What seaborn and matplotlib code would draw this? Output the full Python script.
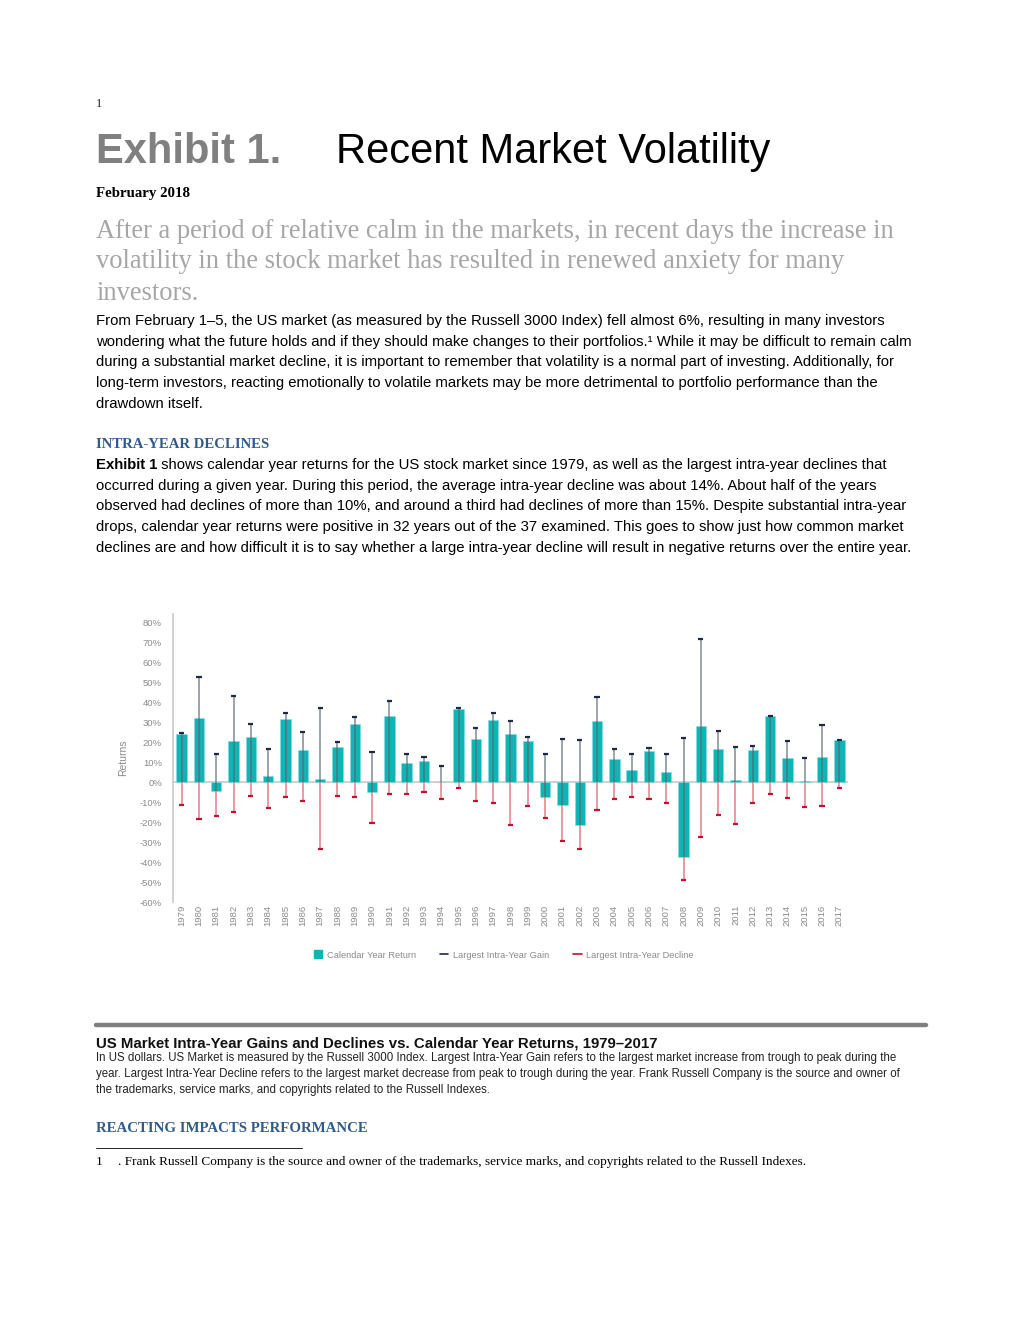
import matplotlib
matplotlib.use("Agg")
import matplotlib.pyplot as plt
from matplotlib.patches import Patch
from matplotlib.lines import Line2D
from matplotlib.text import Annotation
import seaborn as sns
import pandas as pd

# ---------------- data ----------------
years = [str(y) for y in range(1979, 2018)]
calendar_return = [24.0, 32.2, -4.7, 20.3, 22.3, 3.0, 31.7, 16.2, 1.7, 17.5, 28.8,
                   -5.2, 33.2, 9.3, 10.5, 0.2, 36.3, 21.3, 31.2, 23.8, 20.5,
                   -7.7, -11.7, -21.7, 30.7, 11.7, 6.0, 15.5, 4.8, -37.5, 27.8,
                   16.7, 0.8, 16.2, 33.2, 12.2, 0.5, 12.5, 20.8]
intra_year_gain = [24.7, 52.3, 14.0, 42.8, 29.2, 16.3, 34.3, 25.2, 36.8, 19.8, 32.7,
                   14.8, 40.3, 14.2, 12.5, 8.2, 37.0, 27.2, 34.3, 30.3, 22.5,
                   13.8, 21.3, 21.0, 42.7, 16.5, 14.2, 17.2, 14.2, 21.8, 71.7,
                   25.3, 17.7, 17.8, 33.2, 20.5, 11.8, 28.3, 21.2]
intra_year_decline = [-11.3, -18.7, -17.0, -15.2, -7.0, -13.2, -7.7, -9.5, -33.3, -7.0, -7.7,
                      -20.5, -5.8, -6.2, -5.2, -8.7, -3.0, -9.3, -10.3, -21.3, -12.2,
                      -17.8, -29.5, -33.3, -13.8, -8.5, -7.3, -8.7, -10.5, -48.8, -27.7,
                      -16.7, -20.8, -10.3, -6.0, -7.8, -12.3, -11.8, -3.2]
y_ticks = list(range(-60, 81, 10))
y_tick_labels = [f"{v}%" for v in y_ticks]
legend_labels = ["Calendar Year Return", "Largest Intra-Year Gain", "Largest Intra-Year Decline"]

df = pd.DataFrame({"year": years, "ret": calendar_return,
                   "gain": intra_year_gain, "decline": intra_year_decline})

# ---------------- style ----------------
sns.set_theme(style="white")
plt.rcParams["font.family"] = ["Liberation Sans", "DejaVu Sans"]

W, H = 1020, 1320
fig = plt.figure(figsize=(W / 100, H / 100), dpi=100)

TEAL = "#0fb5b5"
GAIN_LINE = "#5b6670"
GAIN_CAP = "#1c2b45"
DEC_LINE = "#e07482"
DEC_CAP = "#c8102e"
TICK_GRAY = "#8a8a8a"
NARROW = ["Liberation Sans", "DejaVu Sans"]
SERIF = ["Liberation Serif", "DejaVu Serif"]
SANS = ["Liberation Sans", "DejaVu Sans"]


def ftext(x, y, s, **kw):
    kw.setdefault("va", "center")
    kw.setdefault("ha", "left")
    return fig.text(x / W, 1 - y / H, s, **kw)


# ---------------- page text ----------------
ftext(96, 104, "1", family=SERIF, fontsize=9, color="#222222")
ftext(96, 152, "Exhibit 1.", family=SANS, fontsize=30, fontweight="bold", color="#808080")
ftext(336, 152, "Recent Market Volatility", family=SANS, fontsize=30, color="#000000")
ftext(96, 194, "February 2018", family=SERIF, fontsize=10.7, fontweight="bold", color="#000000")

sub = ["After a period of relative calm in the markets, in recent days the increase in",
       "volatility in the stock market has resulted in renewed anxiety for many",
       "investors."]
for i, line in enumerate(sub):
    ftext(96, 231 + i * 31, line, family=SERIF, fontsize=19.1, color="#a6a6a6")

BODY = 10.75
body1 = ["From February 1\u20135, the US market (as measured by the Russell 3000 Index) fell almost 6%, resulting in many investors",
         "wondering what the future holds and if they should make changes to their portfolios.\u00b9 While it may be difficult to remain calm",
         "during a substantial market decline, it is important to remember that volatility is a normal part of investing. Additionally, for",
         "long-term investors, reacting emotionally to volatile markets may be more detrimental to portfolio performance than the",
         "drawdown itself."]
for i, line in enumerate(body1):
    ftext(96, 321 + i * 20.7, line, family=SANS, fontsize=BODY, color="#000000")

ftext(96, 444, "INTRA-YEAR DECLINES", family=SERIF, fontsize=10.6, fontweight="bold", color="#2f5a8c")

body2 = ["shows calendar year returns for the US stock market since 1979, as well as the largest intra-year declines that",
         "occurred during a given year. During this period, the average intra-year decline was about 14%. About half of the years",
         "observed had declines of more than 10%, and around a third had declines of more than 15%. Despite substantial intra-year",
         "drops, calendar year returns were positive in 32 years out of the 37 examined. This goes to show just how common market",
         "declines are and how difficult it is to say whether a large intra-year decline will result in negative returns over the entire year."]
t_bold = ftext(96, 465, "Exhibit 1", family=SANS, fontsize=BODY, fontweight="bold", color="#000000")
ann = Annotation(" " + body2[0], xy=(1, 0.5), xycoords=t_bold, va="center", ha="left",
                 family=SANS, fontsize=BODY, color="#000000", annotation_clip=False)
fig.add_artist(ann)
for i, line in enumerate(body2[1:], start=1):
    ftext(96, 465 + i * 20.7, line, family=SANS, fontsize=BODY, color="#000000")

# ---------------- chart ----------------
ax = fig.add_axes([173 / W, 1 - 902 / H, (848 - 173) / W, (902 - 614) / H])
sns.barplot(data=df, x="year", y="ret", color=TEAL, saturation=1, width=0.6,
            ax=ax, edgecolor="#7fe0e0", linewidth=0.5, zorder=2)

xpos = range(len(df))
base = df["ret"].clip(upper=0)
ax.vlines(xpos, base, df["gain"], color=GAIN_LINE, linewidth=1.2, alpha=0.7, zorder=3)
ax.vlines(xpos, base, df["decline"], color=DEC_LINE, linewidth=1.2, alpha=0.85, zorder=3)
ax.hlines(df["gain"], [p - 0.15 for p in xpos], [p + 0.15 for p in xpos],
          color=GAIN_CAP, linewidth=1.6, zorder=4)
ax.hlines(df["decline"], [p - 0.15 for p in xpos], [p + 0.15 for p in xpos],
          color=DEC_CAP, linewidth=1.6, zorder=4)
ax.axhline(0, color="#c8c8c8", linewidth=1.2, zorder=1)

ax.set_xlim(-0.5, len(df) - 0.5)
ax.set_ylim(-60, 84)
ax.set_yticks(y_ticks)
ax.set_yticklabels(y_tick_labels, family=NARROW, fontsize=6.8, color=TICK_GRAY)
ax.set_xticks(list(xpos))
ax.set_xticklabels(years, rotation=90, family=NARROW, fontsize=6.8, color=TICK_GRAY)
ax.tick_params(axis="y", length=0, pad=8)
ax.tick_params(axis="x", length=0, pad=2)
ax.set_xlabel("")
ax.set_ylabel("Returns", family=NARROW, fontsize=7.5, color=TICK_GRAY, labelpad=8)
for side in ["top", "right", "bottom"]:
    ax.spines[side].set_visible(False)
ax.spines["left"].set_color("#c8c8c8")
ax.spines["left"].set_linewidth(1.2)
ax.set_facecolor("none")
ax.grid(False)

handles = [Patch(facecolor=TEAL, edgecolor=TEAL),
           Line2D([0], [0], color=GAIN_CAP, linewidth=1.2),
           Line2D([0], [0], color=DEC_CAP, linewidth=1.2)]
leg = ax.legend(handles, legend_labels, loc="center", bbox_to_anchor=(0.49, -0.184),
                ncol=3, frameon=False, handlelength=0.9, handleheight=0.9,
                handletextpad=0.5, columnspacing=2.6,
                prop={"family": NARROW, "size": 6.7})
for t in leg.get_texts():
    t.set_color(TICK_GRAY)

# ---------------- caption ----------------
fig.add_artist(Line2D([96 / W, 926 / W], [1 - 1025 / H, 1 - 1025 / H], color="#7f7f7f", linewidth=3.2))
ftext(96, 1043, "US Market Intra-Year Gains and Declines vs. Calendar Year Returns, 1979\u20132017",
      family=SANS, fontsize=10.8, fontweight="bold", color="#111111")
cap = ["In US dollars. US Market is measured by the Russell 3000 Index. Largest Intra-Year Gain refers to the largest market increase from trough to peak during the",
       "year. Largest Intra-Year Decline refers to the largest market decrease from peak to trough during the year. Frank Russell Company is the source and owner of",
       "the trademarks, service marks, and copyrights related to the Russell Indexes."]
for i, line in enumerate(cap):
    ftext(96, 1058 + i * 16, line, family=SANS, fontsize=8.3, color="#222222")

ftext(96, 1129, "REACTING IMPACTS PERFORMANCE", family=SERIF, fontsize=10.7, fontweight="bold", color="#2f5a8c")
fig.add_artist(Line2D([96 / W, 302 / W], [1 - 1148 / H, 1 - 1148 / H], color="#000000", linewidth=0.6))
ftext(96, 1162, "1", family=SERIF, fontsize=9.5, color="#000000")
ftext(118, 1162, ". Frank Russell Company is the source and owner of the trademarks, service marks, and copyrights related to the Russell Indexes.",
      family=SERIF, fontsize=9.55, color="#000000")

fig.savefig("out.png", dpi=100, facecolor="white")
